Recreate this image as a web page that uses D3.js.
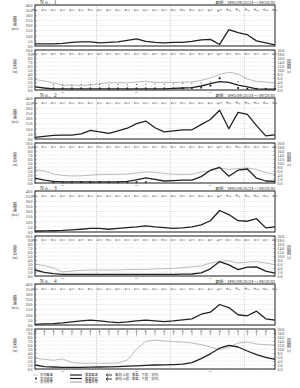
<!DOCTYPE html>
<html>
<head>
<meta charset="utf-8">
<script src="https://cdn.jsdelivr.net/npm/d3@7"></script>
<style>
body { margin: 0; background: #fff; }
text { font-family: "Liberation Serif", "DejaVu Serif", serif; }
.jp { font-family: "Noto Sans CJK JP", sans-serif; }
</style>
</head>
<body>
<svg id="chart" width="300" height="388"></svg>
<script>
// hours from start of period, one value every 3 hours
const hours = d3.range(0, 79, 3);
const periodText = "期間：1991/09/25/24 ～ 09/28/03";
const dayLines = [20, 44, 68];
const dayTicks = [9, 33, 57];
const dayLabels = ["25", "26", "27"];

// No. 1
const windHind1 = [2, 2, 2, 2.5, 3.5, 4, 4, 3, 3.5, 4, 5.5, 7, 4.5, 3.5, 3, 3.5, 3.5, 4.5, 6, 6.5, 1.5, 16, 13, 11, 5, 3, 1];
const waveHind1 = [0.8, 0.5, 0.3, 0.3, 0.3, 0.3, 0.3, 0.3, 0.3, 0.3, 0.3, 0.3, 0.3, 0.3, 0.3, 0.4, 0.5, 0.6, 1.0, 1.6, 2.1, 1.9, 1.2, 0.8, 0.3, 0.2, 0.2];
const periodHind1 = [5.2, 4.6, 3.5, 2.5, 2.4, 2.4, 2.5, 3.2, 3.6, 3.6, 3.6, 4.0, 4.4, 3.8, 3.8, 3.8, 3.9, 4.0, 4.8, 6.0, 7.8, 8.9, 8.0, 5.5, 4.3, 4.0, 3.4];
const waveObs1 = [null, null, 0.4, 0.4, 0.4, 0.4, 0.4, 0.4, 0.4, 0.4, 0.4, 0.4, 0.4, 0.4, 0.4, 0.4, 0.4, 0.5, 0.6, 1.1, 2.9, null, 0.5, 0.3, 0.3, 0.3, 0.3];
const periodObs1 = [null, null, 2.6, 2.4, 2.5, 2.7, 2.6, 2.8, 2.5, 2.7, 2.6, 2.8, 3.0, 3.0, 2.9, 3.1, 3.3, 3.2, 3.5, 4.0, 6.4, null, 4.2, null, null, null, null];
const windDir1 = [190, 185, 180, 175, 180, 185, 190, 180, 175, 180, 185, 180, 175, 180, 180, 185, 190, 185, 180, 170, 160, 200, 210, 205, 200, 195, 190];
const waveDir1 = [180, 180, 175, 180, 185, 180, 180, 175, 180, 180, 185, 180, 180, 175, 180, 180, 185, 180, 180, 175, 170, 180, 185, 180, 180, 175, 180];

// No. 2
const windHind2 = [1.5, 2.5, 3.5, 3.7, 3.7, 5, 8.5, 7, 5.5, 8, 10.5, 15, 17.5, 11, 7, 8, 9, 9, 14, 19, 28, 10, 26, 24, 13, 3, 4];
const waveHind2 = [1.2, 0.7, 0.4, 0.3, 0.3, 0.3, 0.3, 0.3, 0.3, 0.3, 0.4, 0.8, 1.3, 0.9, 0.5, 0.6, 0.7, 0.7, 1.6, 3.2, 3.9, 1.7, 3.2, 3.5, 1.2, 0.5, 0.4];
const periodHind2 = [6.7, 6.0, 4.5, 3.8, 3.5, 3.6, 3.9, 4.3, 4.3, 4.4, 4.5, 5.0, 5.5, 5.3, 4.8, 4.4, 4.3, 4.4, 5.5, 6.0, 7.5, 6.8, 7.2, 7.5, 6.8, 5.2, 4.3];
const waveObs2 = [null, null, 0.2, 0.2, 0.2, 0.2, 0.2, 0.2, 0.2, 0.2, 0.2, 0.2, 0.2, null, null, null, null, null, null, null, null, null, null, null, null, null, null];
const periodObs2 = [];
const windDir2 = [185, 180, 180, 175, 180, 185, 180, 180, 175, 180, 180, 185, 180, 180, 175, 180, 185, 180, 180, 175, 170, 200, 205, 200, 195, 190, 185];
const waveDir2 = [180, 185, 180, 180, 175, 180, 180, 185, 180, 180, 175, 180, 180, 180, 185, 180, 180, 175, 180, 180, 170, 185, 190, 185, 180, 180, 175];

// No. 3
const windHind3 = [1, 1, 1.2, 1.5, 2, 2.7, 3.5, 3.5, 2.7, 3.5, 4.3, 5, 6, 5, 4.3, 3.5, 4, 5, 7, 11, 21, 17, 11, 10.5, 13, 4, 5];
const waveHind3 = [1.5, 0.9, 0.6, 0.4, 0.4, 0.4, 0.4, 0.4, 0.4, 0.4, 0.4, 0.4, 0.4, 0.4, 0.4, 0.4, 0.45, 0.5, 0.8, 1.8, 3.6, 2.8, 1.6, 2.2, 2.3, 1.2, 0.7];
const periodHind3 = [6, 5.2, 4.0, 2.0, 2.5, 2.8, 3.0, 3.0, 3.0, 3.0, 3.2, 3.3, 3.3, 3.5, 3.7, 3.8, 4.2, 4.6, 5.0, 6.5, 7.3, 7.6, 6.5, 7.0, 7.2, 6.5, 5.7];
const waveObs3 = [];
const periodObs3 = [];
const windDir3 = [180, 185, 180, 175, 180, 180, 185, 180, 175, 180, 180, 185, 180, 180, 175, 180, 185, 180, 180, 175, 165, 195, 205, 200, 195, 190, 185];
const waveDir3 = [180, 180, 185, 180, 180, 175, 180, 180, 185, 180, 180, 175, 180, 180, 185, 180, 180, 175, 180, 175, 170, 180, 185, 180, 180, 175, 180];

// No. 4
const windHind4 = [0.7, 1, 1.3, 2, 3, 4, 4.7, 4, 3, 2.3, 3, 4, 4.7, 4, 3.3, 4, 5, 6, 10.5, 12.5, 20, 17, 10, 9, 13.5, 6, 4.7];
const waveHind4 = [1.0, 0.6, 0.5, 0.4, 0.4, 0.4, 0.45, 0.5, 0.55, 0.6, 0.7, 0.8, 0.9, 1.0, 1.05, 1.1, 1.2, 1.6, 2.6, 3.8, 5.2, 5.9, 5.5, 4.5, 3.6, 2.9, 2.4];
const periodHind4 = [5.5, 4.8, 4.4, 5.0, 3.2, 2.9, 2.9, 2.9, 2.9, 3.0, 4.5, 10, 13.8, 14.5, 14.0, 13.7, 13.5, 13.0, 12.2, 11.0, 9.7, 10.8, 13.0, 13.5, 12.5, 12.2, 12.0];
const waveObs4 = [];
const periodObs4 = [];
const windDir4 = [180, 185, 180, 180, 175, 180, 185, 180, 180, 175, 180, 180, 185, 180, 175, 180, 180, 185, 180, 175, 170, 195, 205, 200, 195, 190, 185];
const waveDir4 = [-80, -85, -90, -95, -90, -85, -90, -95, -90, -90, -85, -90, -95, -90, -90, -85, -90, -95, -90, -90, -85, -90, -95, -90, -90, -85, -90];

const stations = [
	{ name: "No. 1", wind: windHind1, wave: waveHind1, period: periodHind1, waveObs: waveObs1, periodObs: periodObs1, windDir: windDir1, waveDir: waveDir1 },
	{ name: "No. 2", wind: windHind2, wave: waveHind2, period: periodHind2, waveObs: waveObs2, periodObs: periodObs2, windDir: windDir2, waveDir: waveDir2 },
	{ name: "No. 3", wind: windHind3, wave: waveHind3, period: periodHind3, waveObs: waveObs3, periodObs: periodObs3, windDir: windDir3, waveDir: waveDir3 },
	{ name: "No. 4", wind: windHind4, wave: waveHind4, period: periodHind4, waveObs: waveObs4, periodObs: periodObs4, windDir: windDir4, waveDir: waveDir4 },
];

var svg = d3.select("#chart");
var x = d3.scaleLinear().domain([0, 78]).range([35, 275]);

var drawArrow = (g, px, py, deg) => {
	g.append("path")
		.attr("transform", `translate(${px},${py}) rotate(${deg})`)
		.attr("d", "M-2.5,0L2.5,0M2.5,0L1.2,-1M2.5,0L1.2,1")
		.attr("fill", "none")
		.attr("stroke", "#666")
		.attr("stroke-width", 0.5);
};

var styleAxis = (a) =>
	a.call((a) => a.select(".domain").remove())
		.call((a) => a.selectAll("line").attr("stroke", "#777").attr("stroke-width", 0.4))
		.call((a) => a.selectAll("text").attr("font-size", 3.9).attr("font-family", "Liberation Serif").attr("fill", "#333"));

var drawPanel = (g, y, ticks, top, bottom) => {
	// horizontal dotted grid
	g.selectAll(null)
		.data(ticks)
		.join("line")
		.attr("x1", x.range()[0])
		.attr("x2", x.range()[1])
		.attr("y1", (d) => y(d))
		.attr("y2", (d) => y(d))
		.attr("stroke", "#bbb")
		.attr("stroke-width", 0.4)
		.attr("stroke-dasharray", "1,1.2");
	// vertical day lines
	g.selectAll(null)
		.data(dayLines)
		.join("line")
		.attr("x1", (d) => x(d))
		.attr("x2", (d) => x(d))
		.attr("y1", top)
		.attr("y2", bottom)
		.attr("stroke", "#999")
		.attr("stroke-width", 0.5)
		.attr("stroke-dasharray", "1,1");
	g.append("g")
		.attr("transform", `translate(${x.range()[0]},0)`)
		.call(d3.axisLeft(y).tickValues(ticks).tickFormat(d3.format(".1f")).tickSize(-2).tickPadding(2.5))
		.call(styleAxis);
};

var frame = (g, top, bottom) =>
	g.append("rect")
		.attr("x", x.range()[0])
		.attr("y", top)
		.attr("width", x.range()[1] - x.range()[0])
		.attr("height", bottom - top)
		.attr("fill", "none")
		.attr("stroke", "#333")
		.attr("stroke-width", 1.1);

var vlabel = (g, px, py, chars, unit) => {
	chars.forEach((c, i) =>
		g.append("text").attr("class", "jp").attr("x", px).attr("y", py + i * 4.6)
			.attr("text-anchor", "middle").attr("font-size", 4.3).attr("fill", "#333").text(c));
	g.append("text").attr("x", px).attr("y", py + chars.length * 4.6 + 0.5)
		.attr("text-anchor", "middle").attr("font-size", 3.4).attr("fill", "#333").text(unit);
};

stations.forEach((st, k) => {
	var top = 5 + 93 * k;
	var wTop = top, wBot = top + 41;
	var hTop = top + 45, hBot = top + 85;
	var g = svg.append("g");

	var yW = d3.scaleLinear().domain([0, 40]).range([wBot, wTop]);
	var yH = d3.scaleLinear().domain([0, 10]).range([hBot, hTop]);
	var yT = d3.scaleLinear().domain([0, 20]).range([hBot, hTop]);

	// titles
	g.append("text").attr("x", 40).attr("y", top - 0.8).attr("font-size", 5.3)
		.attr("letter-spacing", 1.2).attr("fill", "#333").text(st.name);
	g.append("text").attr("class", "jp").attr("x", 275).attr("y", top - 0.9)
		.attr("text-anchor", "end").attr("font-size", 3.9).attr("fill", "#333").text(periodText);

	drawPanel(g, yW, d3.range(0, 41, 5), wTop, wBot);
	drawPanel(g, yH, d3.range(0, 11, 1), hTop, hBot);

	// right axis for period
	g.append("g")
		.attr("transform", `translate(${x.range()[1]},0)`)
		.call(d3.axisRight(yT).tickValues(d3.range(0, 21, 2)).tickFormat(d3.format(".1f")).tickSize(-2).tickPadding(2.5))
		.call(styleAxis);

	vlabel(g, 15, wTop + 15, ["風", "速"], "(m/s)");
	vlabel(g, 15, hTop + 13, ["波", "高"], "(m)");
	vlabel(g, 289, hTop + 13, ["周", "期"], "(s)");

	// day labels
	g.selectAll(null)
		.data(dayTicks)
		.join("text")
		.attr("x", (d) => x(d))
		.attr("y", hBot + 2.9)
		.attr("text-anchor", "middle")
		.attr("font-size", 2.9)
		.attr("fill", "#444")
		.text((d, i) => dayLabels[i]);

	// direction arrows
	st.windDir.forEach((d, i) => drawArrow(g, x(hours[i]), yW(35), d));
	st.waveDir.forEach((d, i) => drawArrow(g, x(hours[i]), yH(9), d));

	// wind line
	g.append("path")
		.attr("d", d3.line().x((d, i) => x(hours[i])).y((d) => yW(d))(st.wind))
		.attr("fill", "none")
		.attr("stroke", "#222")
		.attr("stroke-width", 1.3)
		.attr("stroke-linejoin", "round");

	// period line (thin gray)
	g.append("path")
		.attr("d", d3.line().x((d, i) => x(hours[i])).y((d) => yT(d))(st.period))
		.attr("fill", "none")
		.attr("stroke", "#aaa")
		.attr("stroke-width", 0.8);

	// wave height (thick)
	g.append("path")
		.attr("d", d3.line().x((d, i) => x(hours[i])).y((d) => yH(d))(st.wave))
		.attr("fill", "none")
		.attr("stroke", "#222")
		.attr("stroke-width", 1.3)
		.attr("stroke-linejoin", "round");

	// observed wave heights (squares) and periods (dots)
	st.waveObs.forEach((d, i) => {
		if (d == null) return;
		g.append("rect").attr("x", x(hours[i]) - 0.9).attr("y", yH(d) - 0.9)
			.attr("width", 1.8).attr("height", 1.8).attr("fill", "#222");
	});
	st.periodObs.forEach((d, i) => {
		if (d == null) return;
		g.append("circle").attr("cx", x(hours[i])).attr("cy", yT(d)).attr("r", 0.6).attr("fill", "#555");
	});

	frame(g, wTop, wBot);
	frame(g, hTop, hBot);
});

// legend
var lg = svg.append("g");
var rows = [375, 378.5, 382];
var ltext = (px, py, t) =>
	lg.append("text").attr("class", "jp").attr("x", px).attr("y", py + 1.2)
		.attr("font-size", 3.2).attr("fill", "#333").text(t);

lg.append("line").attr("x1", 33).attr("x2", 38).attr("y1", rows[0]).attr("y2", rows[0]).attr("stroke", "#aaa").attr("stroke-width", 0.6);
ltext(40, rows[0], "実測風速");
lg.append("rect").attr("x", 35).attr("y", rows[1] - 0.9).attr("width", 1.8).attr("height", 1.8).attr("fill", "#222");
ltext(40, rows[1], "実測波高");
lg.append("circle").attr("cx", 36).attr("cy", rows[2]).attr("r", 0.6).attr("fill", "#555");
ltext(40, rows[2], "実測周期");

lg.append("line").attr("x1", 70).attr("x2", 82).attr("y1", rows[0]).attr("y2", rows[0]).attr("stroke", "#222").attr("stroke-width", 1.2);
ltext(85, rows[0], "推算風速");
lg.append("line").attr("x1", 70).attr("x2", 82).attr("y1", rows[1]).attr("y2", rows[1]).attr("stroke", "#222").attr("stroke-width", 1.2);
ltext(85, rows[1], "推算波高");
lg.append("line").attr("x1", 70).attr("x2", 82).attr("y1", rows[2]).attr("y2", rows[2]).attr("stroke", "#888").attr("stroke-width", 0.8);
ltext(85, rows[2], "推算周期");

lg.append("path").attr("d", `M106,${rows[0] - 0.6}L112,${rows[0] - 0.6}M106,${rows[0] + 0.6}L112,${rows[0] + 0.6}M106,${rows[0]}L108,${rows[0] - 1.6}M106,${rows[0]}L108,${rows[0] + 1.6}`)
	.attr("fill", "none").attr("stroke", "#222").attr("stroke-width", 0.5);
ltext(115, rows[0], "風向(上段：推算，下段：実測)");
lg.append("path").attr("d", `M106,${rows[1] + 0.5}L112,${rows[1] + 0.5}M106,${rows[1] + 0.5}L108,${rows[1] - 1}M106,${rows[1] + 0.5}L108,${rows[1] + 2}`)
	.attr("fill", "none").attr("stroke", "#222").attr("stroke-width", 0.9);
ltext(115, rows[1] + 0.5, "波向(上段：推算，下段：実測)");
</script>
</body>
</html>
